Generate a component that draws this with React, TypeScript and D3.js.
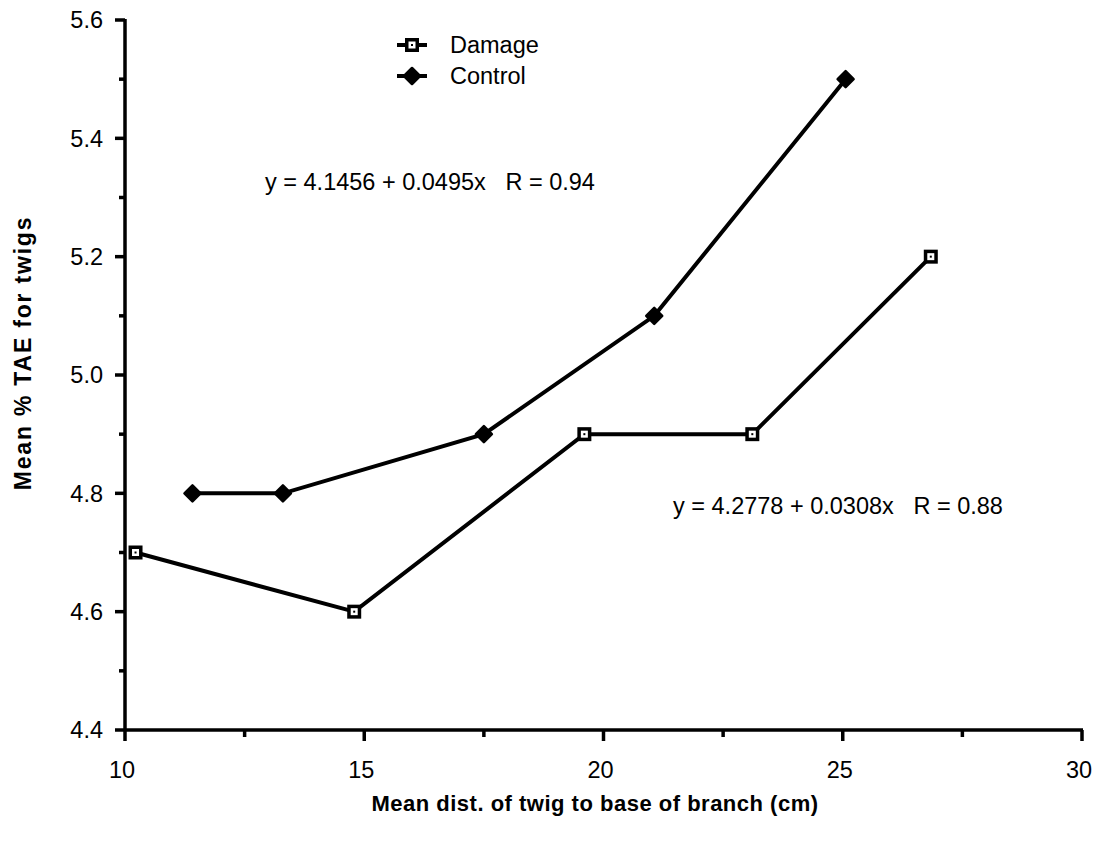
import React from "react"
import * as d3 from "d3"

// values
const damageX = [10.22, 14.79, 19.6, 23.11, 26.84]
const damageY = [4.7, 4.6, 4.9, 4.9, 5.2]
const controlX = [11.41, 13.3, 17.5, 21.06, 25.06]
const controlY = [4.8, 4.8, 4.9, 5.1, 5.5]

const xTicks = [10, 15, 20, 25, 30]
const xMinor = [12.5, 17.5, 22.5, 27.5]
const yTicks = [4.4, 4.6, 4.8, 5.0, 5.2, 5.4, 5.6]
const yMinor = [4.5, 4.7, 4.9, 5.1, 5.3, 5.5]

const seriesNames = ["Damage", "Control"]
const eqControl = "y = 4.1456 + 0.0495x   R = 0.94"
const eqDamage = "y = 4.2778 + 0.0308x   R = 0.88"
const xTitle = "Mean dist. of twig to base of branch (cm)"
const yTitle = "Mean % TAE for twigs"

const W = 1100
const H = 843
const margin = { top: 20, right: 18, bottom: 113, left: 125 }
const font = "'Liberation Sans', Arial, sans-serif"
const fs = 23.5

const App: React.FC = () => {
	const x = d3
		.scaleLinear()
		.domain([10, 30])
		.range([margin.left, W - margin.right])
	const y = d3
		.scaleLinear()
		.domain([4.4, 5.6])
		.range([H - margin.bottom, margin.top])

	const line = d3
		.line<[number, number]>()
		.x((d) => x(d[0]))
		.y((d) => y(d[1]))

	const damage: [number, number][] = damageX.map((v, i) => [v, damageY[i]])
	const control: [number, number][] = controlX.map((v, i) => [v, controlY[i]])

	const x0 = x(10)
	const y0 = y(4.4)

	const square = (cx: number, cy: number, key: any) => (
		<g key={key}>
			<rect x={cx - 7} y={cy - 7} width={14} height={14} fill="#000" />
			<rect x={cx - 3.5} y={cy - 3.5} width={7} height={7} fill="#fff" />
			<rect x={cx - 1} y={cy - 1} width={2} height={2} fill="#000" />
		</g>
	)
	const diamond = (cx: number, cy: number, key: any) => (
		<path
			key={key}
			d={`M${cx - 8},${cy} L${cx},${cy - 8} L${cx + 8},${cy} L${cx},${cy + 8} Z`}
			fill="#000"
			stroke="#000"
			strokeWidth={2.5}
			strokeLinejoin="round"
		/>
	)

	return (
		<svg
			width={W}
			height={H}
			style={{ position: "absolute", left: 0, top: 0, background: "#fff" }}
			fontFamily={font}>
			{/* axes */}
			<g stroke="#000" strokeWidth={3.5} fill="none">
				<line x1={x0} x2={x0} y1={y(5.6) - 1} y2={y0} />
				<line x1={x0} x2={x(30) + 1} y1={y0} y2={y0} />
				{yTicks.map((t) => (
					<line key={"yt" + t} x1={x0 - 10} x2={x0} y1={y(t)} y2={y(t)} />
				))}
				{yMinor.map((t) => (
					<line key={"ym" + t} x1={x0 - 6} x2={x0} y1={y(t)} y2={y(t)} />
				))}
				{xTicks.map((t) => (
					<line key={"xt" + t} x1={x(t)} x2={x(t)} y1={y0} y2={y0 + 11} />
				))}
				{xMinor.map((t) => (
					<line key={"xm" + t} x1={x(t)} x2={x(t)} y1={y0} y2={y0 + 7} />
				))}
			</g>
			<g fontSize={fs} fill="#000">
				{yTicks.map((t) => (
					<text key={"yl" + t} x={x0 - 22} y={y(t)} dy="0.35em" textAnchor="end">
						{t.toFixed(1)}
					</text>
				))}
				{xTicks.map((t) => (
					<text key={"xl" + t} x={x(t) - 3} y={y0 + 48} textAnchor="middle">
						{t}
					</text>
				))}
			</g>

			{/* axis titles */}
			<text
				x={595}
				y={811}
				textAnchor="middle"
				fontSize={22}
				letterSpacing={0.5}
				fontWeight="bold">
				{xTitle}
			</text>
			<text
				transform={`translate(31,353) rotate(-90)`}
				textAnchor="middle"
				fontSize={23}
				letterSpacing={1.8}
				fontWeight="bold">
				{yTitle}
			</text>

			{/* series */}
			<path d={line(control) || ""} fill="none" stroke="#000" strokeWidth={4} />
			<path d={line(damage) || ""} fill="none" stroke="#000" strokeWidth={4} />
			{control.map((d, i) => diamond(x(d[0]), y(d[1]), "c" + i))}
			{damage.map((d, i) => square(x(d[0]), y(d[1]), "d" + i))}

			{/* legend */}
			<g>
				<line x1={397} x2={427} y1={45} y2={45} stroke="#000" strokeWidth={4} />
				{square(412, 45, "ld")}
				<text x={450} y={45} dy="0.35em" fontSize={fs}>
					{seriesNames[0]}
				</text>
				<line x1={397} x2={427} y1={76} y2={76} stroke="#000" strokeWidth={4} />
				{diamond(412, 76, "lc")}
				<text x={450} y={76} dy="0.35em" fontSize={fs}>
					{seriesNames[1]}
				</text>
			</g>

			{/* regression annotations */}
			<text x={265} y={182} dy="0.35em" fontSize={fs} style={{ whiteSpace: "pre" }}>
				{eqControl}
			</text>
			<text x={673} y={506} dy="0.35em" fontSize={fs} style={{ whiteSpace: "pre" }}>
				{eqDamage}
			</text>
		</svg>
	)
}

export default App
